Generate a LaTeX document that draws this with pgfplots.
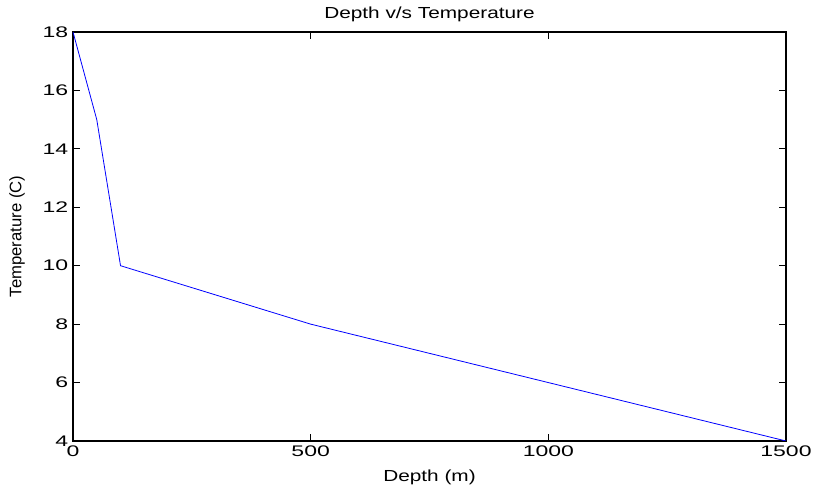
\documentclass[border=0pt]{standalone}
\usepackage{pgfplots}
\pgfplotsset{compat=1.18}
\usepackage{fontspec}
\setmainfont{Liberation Sans}
\newfontfamily\widesans[FakeStretch=1.3]{Liberation Sans}
\newfontfamily\tickfont[FakeStretch=1.5]{Liberation Sans}

\begin{document}
\begin{tikzpicture}
\begin{axis}[
    scale only axis,
    width=534.75pt,
    height=306.75pt,
    xmin=0, xmax=1500,
    ymin=4, ymax=18,
    xtick={0,500,1000,1500},
    ytick={4,6,...,18},
    tick align=inside,
    major tick length=5pt,
    axis line style={black, line width=0.8pt},
    tick style={black, line width=0.6pt},
    /pgf/number format/assume math mode=true,
    /pgf/number format/1000 sep={},
    tick label style={font=\tickfont\fontsize{11.5}{13}\selectfont},
    title={Depth v/s Temperature},
    title style={font=\widesans\fontsize{12}{14}\selectfont,
        at={(axis description cs:0.5,1)}, anchor=center, yshift=7.5pt},
    xlabel={Depth (m)},
    ylabel={Temperature (C)},
    xlabel style={font=\widesans\fontsize{12}{14}\selectfont,
        at={(axis description cs:0.5,0)}, anchor=center, yshift=-27pt},
    ylabel style={font=\fontsize{12.5}{14}\selectfont,
        at={(axis description cs:0,0.5)}, anchor=center, yshift=42pt},
]
\addplot[blue, line width=0.6pt] coordinates {
    (0,18) (50,15) (100,10) (500,8) (1500,4)
};
\end{axis}
\pgfresetboundingbox
\path[use as bounding box] ([xshift=-54.75pt,yshift=-37.5pt]current axis.south west) rectangle ([xshift=21pt,yshift=24pt]current axis.north east);
\end{tikzpicture}
\end{document}
